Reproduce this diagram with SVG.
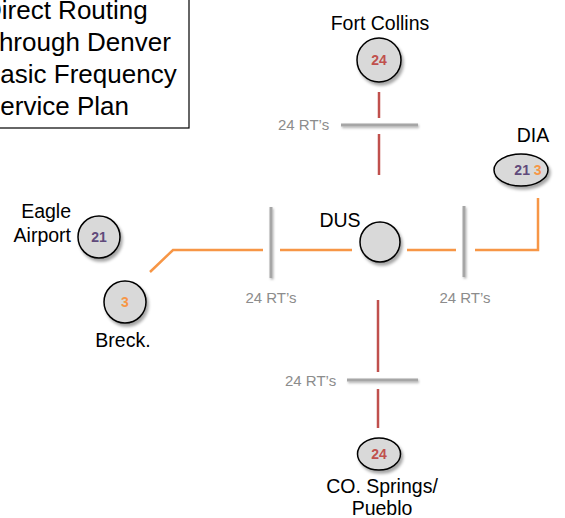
<svg xmlns="http://www.w3.org/2000/svg" width="565" height="518" viewBox="0 0 565 518">
<defs>
<filter id="sh" x="-30%" y="-30%" width="170%" height="170%">
<feDropShadow dx="2" dy="3" stdDeviation="1.6" flood-color="#000" flood-opacity="0.35"/>
</filter>
<filter id="shl" filterUnits="userSpaceOnUse" x="0" y="0" width="565" height="518">
<feDropShadow dx="1" dy="1.5" stdDeviation="0.8" flood-color="#000" flood-opacity="0.3"/>
</filter>
</defs>
<style>
text{font-family:"Liberation Sans",Arial,sans-serif}
.lbl{font-size:19.5px;fill:#000}
.title{font-size:26px;fill:#000}
.num{font-size:14px;font-weight:bold;text-anchor:middle}
.rt{font-size:15px;fill:#8c8c8c}
.node{fill:#d9d9d9;stroke:#000;stroke-width:1.5;filter:url(#sh)}
.red{stroke:#c0504d;stroke-width:2.5;fill:none}
.org{stroke:#f79646;stroke-width:2.5;fill:none}
.bar{stroke:#a6a6a6;stroke-width:3;fill:none;filter:url(#shl)}
.r{fill:#c0504d}.o{fill:#f79646}.p{fill:#604a7b}
</style>
<g id="title">
<rect x="-10" y="-10" width="199" height="138" fill="#fff" stroke="#000" stroke-width="1.2"/>
<text class="title" x="-17" y="19">Direct Routing</text>
<text class="title" x="-17" y="51">Through Denver</text>
<text class="title" x="-17" y="83">Basic Frequency</text>
<text class="title" x="-17" y="115">Service Plan</text>
</g>
<g id="connectors">
<line class="red" x1="379" y1="92" x2="379" y2="118"/>
<line class="red" x1="379" y1="134" x2="379" y2="175"/>
<line class="red" x1="378" y1="300" x2="378" y2="372"/>
<line class="red" x1="378" y1="389" x2="378" y2="428"/>
<polyline class="org" points="150,272 173,250 263,250"/>
<line class="org" x1="280" y1="250" x2="352" y2="250"/>
<line class="org" x1="407" y1="250" x2="456" y2="250"/>
<polyline class="org" points="475,250 538,250 538,198"/>
<line class="bar" x1="341" y1="125" x2="418" y2="125"/>
<line class="bar" x1="271" y1="207" x2="271" y2="278"/>
<line class="bar" x1="464" y1="206" x2="464" y2="277"/>
<line class="bar" x1="347" y1="380" x2="418" y2="380"/>
<text class="rt" x="278" y="130">24 RT’s</text>
<text class="rt" x="271" y="303" text-anchor="middle">24 RT’s</text>
<text class="rt" x="465" y="303" text-anchor="middle">24 RT’s</text>
<text class="rt" x="285" y="386">24 RT’s</text>
</g>
<g id="fort-collins">
<text class="lbl" x="380" y="30" text-anchor="middle">Fort Collins</text>
<circle class="node" cx="379" cy="60" r="22"/>
<text class="num r" x="379" y="65">24</text>
</g>
<g id="dia">
<text class="lbl" x="533" y="142" text-anchor="middle">DIA</text>
<ellipse class="node" cx="521" cy="170" rx="27" ry="16"/>
<text class="num" x="528" y="175"><tspan class="p">21</tspan> <tspan class="o">3</tspan></text>
</g>
<g id="dus">
<text class="lbl" x="340" y="227" text-anchor="middle">DUS</text>
<circle class="node" cx="380" cy="242" r="20"/>
</g>
<g id="eagle">
<text class="lbl" x="71" y="218" text-anchor="end">Eagle</text>
<text class="lbl" x="71" y="242" text-anchor="end">Airport</text>
<circle class="node" cx="99" cy="237" r="21"/>
<text class="num p" x="99" y="242">21</text>
</g>
<g id="breck">
<circle class="node" cx="125" cy="302" r="21"/>
<text class="num o" x="125" y="307">3</text>
<text class="lbl" x="123" y="347" text-anchor="middle">Breck.</text>
</g>
<g id="co-springs">
<ellipse class="node" cx="379" cy="454" rx="21.5" ry="16"/>
<text class="num r" x="379" y="459">24</text>
<text class="lbl" x="382" y="493" text-anchor="middle">CO. Springs/</text>
<text class="lbl" x="382" y="515" text-anchor="middle">Pueblo</text>
</g>
</svg>
